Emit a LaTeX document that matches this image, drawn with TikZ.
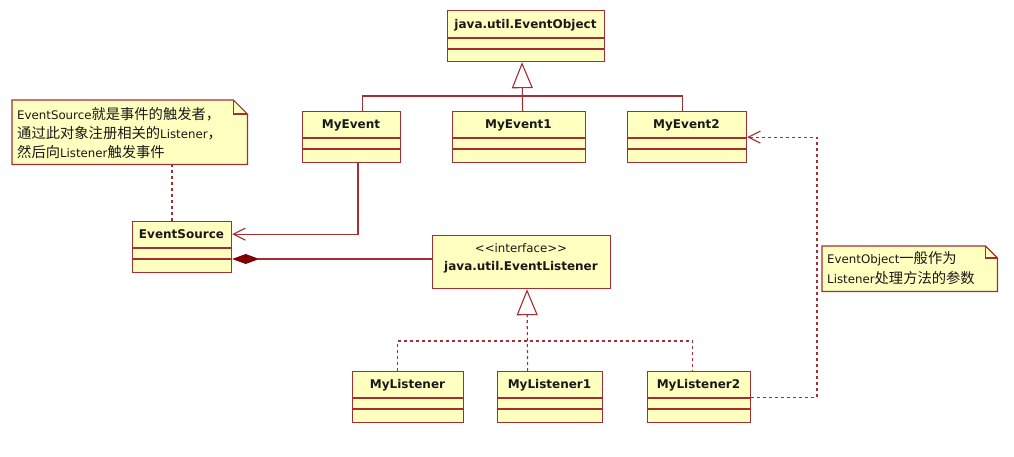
\documentclass[tikz,border=0pt]{standalone}
\usepackage{fontspec}
\setmainfont{DejaVu Sans}
\newfontfamily\zhfont{Noto Sans CJK SC}
\usetikzlibrary{arrows.meta}
\definecolor{umlred}{RGB}{160,48,52}
\definecolor{umlfill}{RGB}{255,255,192}
\definecolor{umldark}{RGB}{128,0,0}
\newcommand\zh[1]{{\zhfont\fontsize{14.3}{19}\selectfont #1}}
\tikzset{
  clsbox/.style={draw=umlred, fill=umlfill, line width=1.2pt, inner sep=0pt, anchor=north west},
  compline/.style={draw=umlred, line width=1.2pt},
  clsname/.style={font=\bfseries\fontsize{12}{14}\selectfont, text=black!90, inner sep=0pt, anchor=base},
  plaintext/.style={font=\fontsize{11.8}{19}\selectfont, text=black!90, inner sep=0pt},
  conn/.style={draw=umlred, line width=1.1pt},
  dconn/.style={conn, dash pattern=on 3pt off 3pt},
  gentip/.style={-{Triangle[open,length=26pt,width=21pt]}},
  opentip/.style={-{Straight Barb[length=12pt,width=12pt]}},
  notebox/.style={draw=umlred, fill=umlfill, line width=1.2pt, line join=miter},
  noteline/.style={draw=umlred, line width=1.1pt},
}
\newcommand\umlcls[8]{%
  \node[clsbox, minimum width=#3pt-#2pt, minimum height=#7pt-#4pt] (#1) at (#2,#4) {};
  \draw[compline] (#2,#5) -- (#3,#5) (#2,#6) -- (#3,#6);
  \node[clsname] (#1-n) at ({(#2+#3)/2},{#5-9.5}) {#8};
}
\begin{document}
\begin{tikzpicture}[x=1pt,y=-1pt]
\useasboundingbox[fill=white] (0,0) rectangle (1014,456);

% classes
\umlcls{eo}{447}{604}{10}{38}{49}{61}{java.util.EventObject}
\umlcls{me}{302}{400}{111}{138}{149}{162}{MyEvent}
\umlcls{meA}{452}{585}{111}{138}{149}{162}{MyEvent1}
\umlcls{meB}{627}{746}{111}{138}{149}{162}{MyEvent2}
\umlcls{es}{132}{231}{221}{248}{259}{272}{EventSource}
\umlcls{ml}{352}{463}{371}{398}{409}{422}{MyListener}
\umlcls{mlA}{497}{602}{371}{398}{409}{422}{MyListener1}
\umlcls{mlB}{647}{750}{371}{398}{409}{422}{MyListener2}

% interface
\node[clsbox, minimum width=178pt, minimum height=53pt] (el) at (432,235) {};
\node[plaintext, anchor=base] (el-s) at (521,252) {<\kern0pt<interface>\kern0pt>};
\node[clsname] (el-n) at (521,270) {java.util.EventListener};

% generalization to EventObject
\coordinate (gj) at (522,96);
\draw[conn] ([xshift=11pt]me.north) |- (gj) -| ([xshift=-4.5pt]meB.north);
\draw[conn, gentip] ([xshift=3.5pt]meA.north) -- (gj |- eo.south);

% association MyEvent -> EventSource
\coordinate (ax) at (358,0);
\draw[conn, opentip] (me.south -| ax) |- (es.east |- es-n);

% composition EventSource <>-- EventListener
\coordinate (cy) at (0,259);
\draw[conn, {Diamond[length=27pt,width=10pt,color=umldark]}-] (es.east |- cy) -- (el.west |- cy);

% realization to EventListener
\coordinate (rj) at (527,341);
\draw[dconn] ([xshift=-10.5pt]ml.north) |- (rj) -| ([xshift=-6.5pt]mlB.north);
\draw[dconn, gentip] ([xshift=-22.5pt]mlA.north) -- (rj |- el.south);

% dependency MyListener2 -> MyEvent2
\coordinate (dx) at (817,0);
\draw[dconn, opentip] (mlB.east) -- (mlB.east -| dx) -- (meB.east -| dx) -- (meB.east);

% note 1
\node[inner sep=0pt, minimum width=235pt, minimum height=64pt, anchor=north west] (n1) at (12,100) {};
\draw[notebox] (n1.north west) -- ([xshift=-14pt]n1.north east) -- ([yshift=-14pt]n1.north east) -- (n1.south east) -- (n1.south west) -- cycle;
\draw[noteline] ([xshift=-14pt]n1.north east) -- ([xshift=-14pt,yshift=-14pt]n1.north east) -- ([yshift=-14pt]n1.north east);
\node[plaintext, anchor=base west] (n1a) at (17,119) {EventSource\zh{就是事件的触发者，}};
\node[plaintext, anchor=base west] (n1b) at (17,138) {\zh{通过此对象注册相关的}Listener\zh{，}};
\node[plaintext, anchor=base west] (n1c) at (17,157) {\zh{然后向}Listener\zh{触发事件}};
\coordinate (nx) at (172,0);
\draw[dconn] (n1.south -| nx) -- (es.north -| nx);

% note 2
\node[inner sep=0pt, minimum width=175pt, minimum height=45pt, anchor=north west] (n2) at (822,246) {};
\draw[notebox] (n2.north west) -- ([xshift=-12pt]n2.north east) -- ([yshift=-12pt]n2.north east) -- (n2.south east) -- (n2.south west) -- cycle;
\draw[noteline] ([xshift=-12pt]n2.north east) -- ([xshift=-12pt,yshift=-12pt]n2.north east) -- ([yshift=-12pt]n2.north east);
\node[plaintext, anchor=base west] (n2a) at (827,263) {EventObject\zh{一般作为}};
\node[plaintext, anchor=base west] (n2b) at (827,283) {Listener\zh{处理方法的参数}};
\end{tikzpicture}
\end{document}
